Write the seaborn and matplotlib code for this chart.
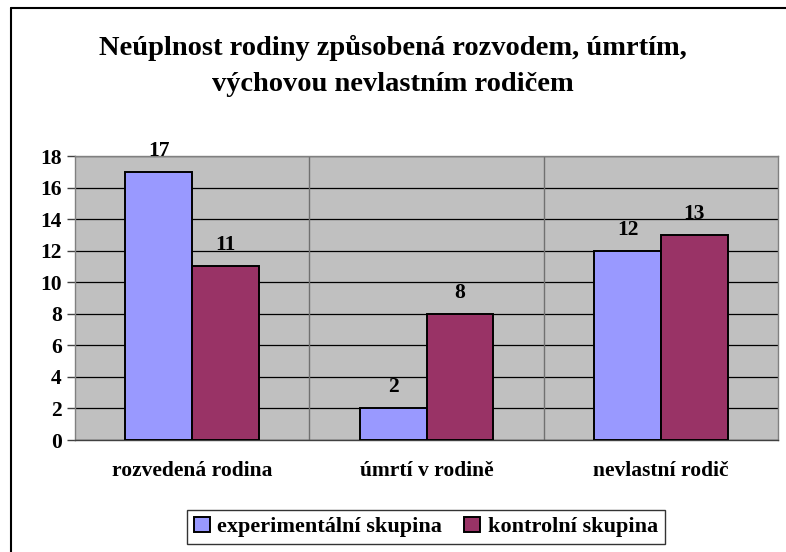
import matplotlib
matplotlib.use("Agg")
import matplotlib.pyplot as plt
import seaborn as sns
import pandas as pd
from matplotlib.lines import Line2D

# values
categories = ["rozvedená rodina", "úmrtí v rodině", "nevlastní rodič"]
experimental = [17, 2, 12]
control = [11, 8, 13]
groups = ["experimentální skupina", "kontrolní skupina"]
colors = ["#9999FF", "#993366"]

df = pd.DataFrame({
    "kategorie": categories * 2,
    "pocet": experimental + control,
    "skupina": [groups[0]] * 3 + [groups[1]] * 3,
})

sns.set_style("white")
plt.rcParams["font.family"] = ["Liberation Serif", "DejaVu Serif"]
plt.rcParams["font.weight"] = "bold"
plt.rcParams["text.color"] = "black"
plt.rcParams["xtick.color"] = "black"
plt.rcParams["ytick.color"] = "black"

fig = plt.figure(figsize=(7.86, 5.52), dpi=100)
ax = fig.add_axes([75 / 786, 112 / 552, 703 / 786, 284 / 552])
ax.set_facecolor("#C0C0C0")

sns.barplot(data=df, x="kategorie", y="pocet", hue="skupina", palette=colors,
            width=0.57, edgecolor="black", linewidth=1.4, saturation=1,
            legend=True, ax=ax, zorder=3)

# labels above bars
for cont in ax.containers:
    txts = ax.bar_label(cont, padding=8, fontsize=15.5, fontweight="bold", color="black")
    for t in txts:
        t.set_zorder(5)
        t.set_clip_on(False)

ax.set_ylim(0, 18)
ax.set_xlim(-0.5, 2.5)
ax.set_yticks(range(0, 19, 2))
ax.yaxis.grid(True, color="black", lw=0.9, zorder=0)
ax.set_axisbelow(True)
for b in [0.5, 1.5]:
    ax.axvline(b, color="#707070", lw=1.0, zorder=1)

ax.set_xticks([0, 1, 2])
ax.set_xticklabels(categories)
ax.set_xticks([-0.5, 0.5, 1.5, 2.5], minor=True)
ax.tick_params(axis="x", which="major", length=0, pad=15, labelsize=15.5)
ax.tick_params(axis="x", which="minor", length=6, width=1, color="#404040", direction="out")
ax.tick_params(axis="y", length=6, width=1, color="#404040", direction="out",
               labelsize=15.5, left=True, labelcolor="black")
for lbl in ax.get_xticklabels() + ax.get_yticklabels():
    lbl.set_fontweight("bold")
ax.set_xlabel("")
ax.set_ylabel("")

for s in ["top", "right", "left"]:
    ax.spines[s].set_color("#808080")
    ax.spines[s].set_linewidth(1.0)
ax.spines["bottom"].set_color("#404040")
ax.spines["bottom"].set_linewidth(1.0)

handles, labels = ax.get_legend_handles_labels()
ax.legend_.remove()
leg = fig.legend(handles, labels, ncol=2, loc="center", bbox_to_anchor=(0.542, 0.045),
                 frameon=True, fancybox=False, edgecolor="black",
                 prop={"weight": "bold", "size": 16}, handlelength=0.7, handleheight=0.7,
                 handletextpad=0.35, columnspacing=1.0, borderpad=0.3, borderaxespad=0)
leg.get_frame().set_linewidth(1.0)

fig.text(0.5, 1 - 66 / 552, "Neúplnost rodiny způsobená rozvodem, úmrtím,\nvýchovou nevlastním rodičem",
         ha="center", va="center", fontsize=20.5, fontweight="bold", linespacing=1.55)

# outer chart frame (left and top visible)
fig.add_artist(Line2D([11 / 786, 11 / 786], [0, 1 - 8 / 552], transform=fig.transFigure,
                      color="black", lw=1.5))
fig.add_artist(Line2D([11 / 786, 1], [1 - 8 / 552, 1 - 8 / 552], transform=fig.transFigure,
                      color="black", lw=1.5))

fig.savefig("out.png", dpi=100)
